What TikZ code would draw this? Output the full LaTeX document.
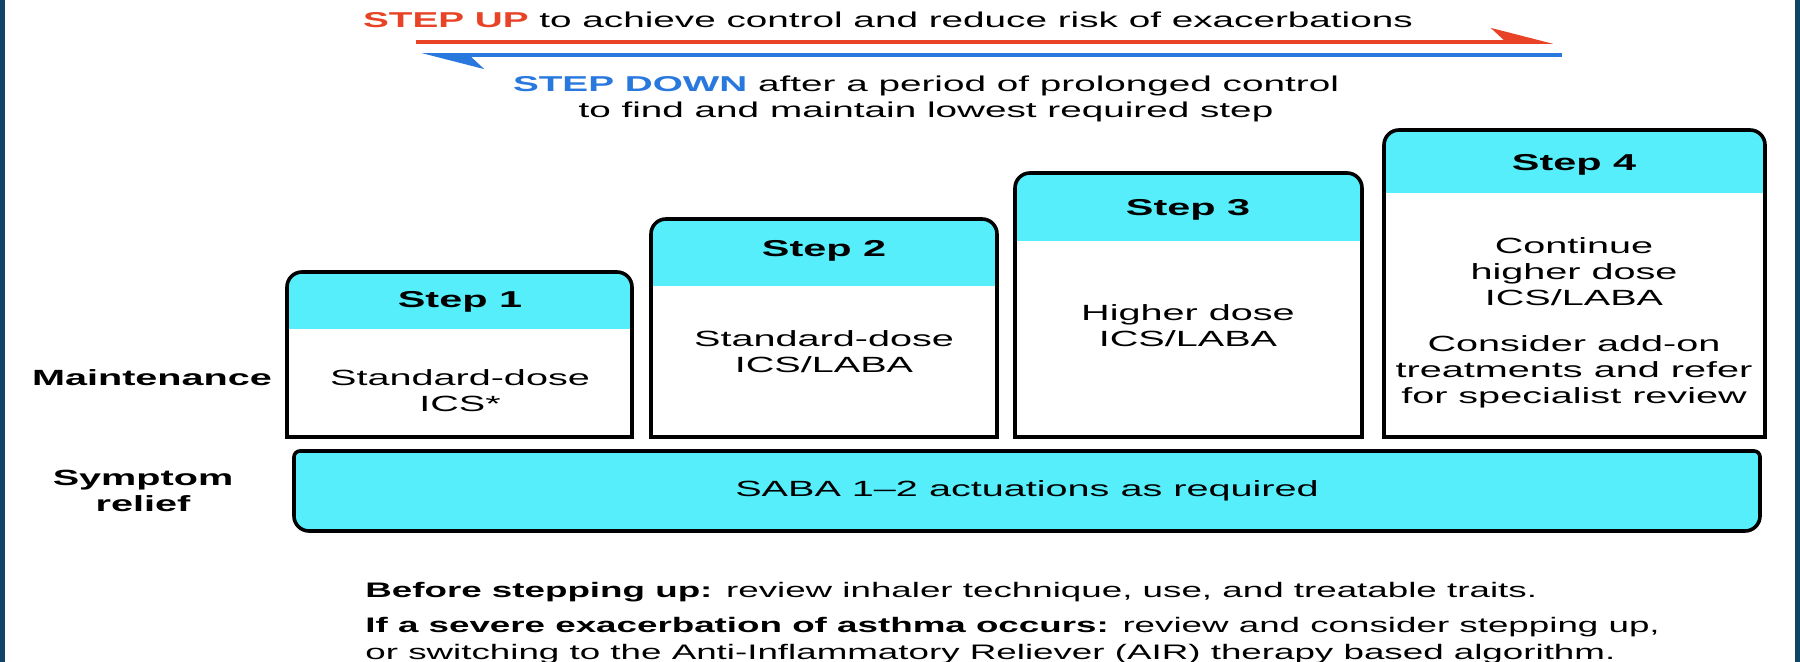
\documentclass[tikz,border=0pt]{standalone}
\usepackage{fontspec}
\setmainfont{Liberation Sans}[FakeStretch=1.8]
\newfontfamily\notefont{Liberation Sans}[FakeStretch=1.75]
\usetikzlibrary{arrows.meta}
\definecolor{stepcyan}{RGB}{85,238,250}
\definecolor{upred}{RGB}{232,67,38}
\definecolor{downblue}{RGB}{40,120,222}
\definecolor{edgenavy}{RGB}{16,68,105}
\begin{document}
\begin{tikzpicture}[x=0.5pt,y=-0.5pt,
  txt/.style={inner sep=0pt,font=\fontsize{11pt}{13pt}\selectfont,align=center},
  toptxt/.style={inner sep=0pt,font=\fontsize{10.75pt}{13pt}\selectfont,align=center},
  head/.style={inner sep=0pt,font=\fontsize{11.5pt}{13pt}\selectfont\bfseries,anchor=base},
  side/.style={inner sep=0pt,font=\fontsize{11pt}{13pt}\selectfont\bfseries,align=center},
  note/.style={inner sep=0pt,font=\notefont\fontsize{10.5pt}{13.5pt}\selectfont,align=left},
  frame/.style={line width=1.8pt,draw=black},
  harp/.style={line width=1.8pt,-{Stealth[harpoon,length=27.5pt,width=14pt,inset=7.5pt]}}]
\useasboundingbox (0,0) rectangle (1800,662);
\fill[white] (0,0) rectangle (1800,662);
\fill[edgenavy] (0,0) rectangle (5,662);
\fill[edgenavy] (1795,0) rectangle (1800,662);

% step up / step down arrows
\node[toptxt,anchor=base] (upt) at (888,28) {\textcolor{upred}{\bfseries STEP UP} to achieve control and reduce risk of exacerbations};
\coordinate (upA) at (416,42);
\coordinate (upB) at (1553,42);
\draw[harp,upred] (upA) -- (upB);
\coordinate (dnA) at (1562,55);
\coordinate (dnB) at (422,55);
\draw[harp,downblue] (dnA) -- (dnB);
\node[toptxt] (dnt) at (926,99) {\textcolor{downblue}{\bfseries STEP DOWN} after a period of prolonged control\\to find and maintain lowest required step};

% step cards: cyan header, white body, rounded top corners
\foreach \L/\R/\T/\H/\n in {287/632/272/329/1, 651/997/219/286/2, 1015/1362/173/241/3, 1384/1765/130/193/4}{
  \fill[stepcyan] (\L,\H) -- (\L,\T+15) arc[start angle=180,end angle=90,radius=7.5pt]
     -- (\R-15,\T) arc[start angle=90,end angle=0,radius=7.5pt] -- (\R,\H) -- cycle;
  \draw[frame] (\L,437) -- (\L,\T+15) arc[start angle=180,end angle=90,radius=7.5pt]
     -- (\R-15,\T) arc[start angle=90,end angle=0,radius=7.5pt] -- (\R,437) -- cycle;
}
\node[head] (s1h) at (460,308) {Step 1};
\node[head] (s2h) at (824,257) {Step 2};
\node[head] (s3h) at (1188,216) {Step 3};
\node[head] (s4h) at (1574,171) {Step 4};
\node[txt] (s1b) at (460,391) {Standard-dose\\ICS*};
\node[txt] (s2b) at (824,352) {Standard-dose\\ICS/LABA};
\node[txt] (s3b) at (1188,326) {Higher dose\\ICS/LABA};
\node[txt] (s4a) at (1574,272) {Continue\\higher dose\\ICS/LABA};
\node[txt] (s4c) at (1574,372) {Consider add-on\\treatments and refer\\for specialist review};

% reliever bar
\draw[frame,fill=stepcyan] (294,457) arc[start angle=180,end angle=90,radius=3pt]
  -- (1754,451) arc[start angle=90,end angle=0,radius=3pt]
  -- (1760,516) arc[start angle=0,end angle=-90,radius=7.5pt]
  -- (309,531) arc[start angle=270,end angle=180,radius=7.5pt] -- cycle;
\node[txt] (saba) at (1027,491) {SABA 1--2 actuations as required};

% row labels
\node[side] (maint) at (152,378) {Maintenance};
\node[side] (relief) at (143,491) {Symptom\\relief};

% notes
\node[note,anchor=base west] (n1) at (365,597) {\textbf{Before stepping up:} review inhaler technique, use, and treatable traits.};
\node[note,anchor=north west] (n2) at (365,617) {\textbf{If a severe exacerbation of asthma occurs:} review and consider stepping up,\\or switching to the Anti-Inflammatory Reliever (AIR) therapy based algorithm.};
\end{tikzpicture}
\end{document}
